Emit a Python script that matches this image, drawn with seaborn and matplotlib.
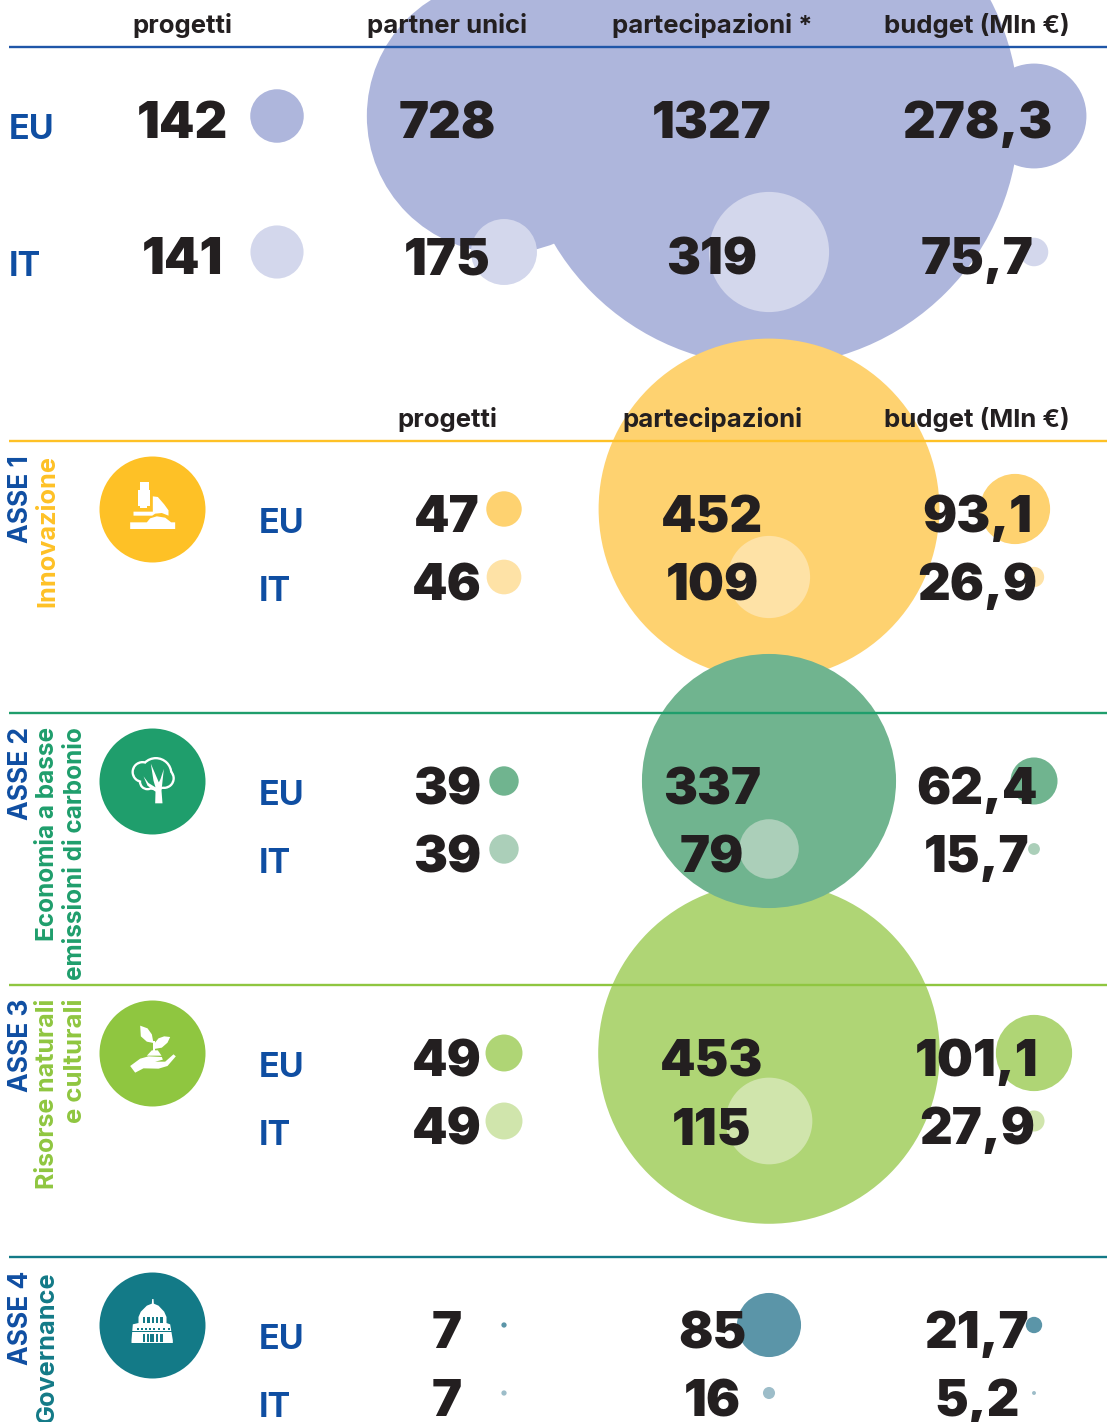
import matplotlib
matplotlib.use("Agg")
import matplotlib.pyplot as plt
from matplotlib.patches import Polygon, Circle, Rectangle
import pandas as pd
import seaborn as sns

W, H, DPI = 1107, 1422, 100
FONT = ["Inter", "DejaVu Sans"]
INK = "#231f20"
BLUE = "#0f4ea2"

# ---- data ----
top_headers = ["progetti", "partner unici", "partecipazioni *", "budget (Mln €)"]
section_headers = ["progetti", "partecipazioni", "budget (Mln €)"]
countries = ["EU", "IT"]
top_eu = [142, 728, 1327, 278.3]
top_it = [141, 175, 319, 75.7]
asse1_eu = [47, 452, 93.1]
asse1_it = [46, 109, 26.9]
asse2_eu = [39, 337, 62.4]
asse2_it = [39, 79, 15.7]
asse3_eu = [49, 453, 101.1]
asse3_it = [49, 115, 27.9]
asse4_eu = [7, 85, 21.7]
asse4_it = [7, 16, 5.2]

# ---- layout / style ----
TOP_CIRC_X = [277, 504, 769, 1034]
TOP_TEXT_X = [182, 447, 712, 977]
SEC_CIRC_X = TOP_CIRC_X[1:]
SEC_TEXT_X = TOP_TEXT_X[1:]
K_TOP, K_SEC = 0.1884, 0.377
NUM_SIZE = 36.5
sns.set_theme(style="white")
plt.rcParams["font.family"] = FONT

fig = plt.figure(figsize=(W / DPI, H / DPI), dpi=DPI)
ax = fig.add_axes([0, 0, 1, 1])
ax.set_xlim(0, W)
ax.set_ylim(H, 0)
ax.axis("off")


def size_for(values, k):
    return [(2 * k * v * 72 / DPI) ** 2 for v in values]


def bubbles(values, xs, y, k, color, z):
    df = pd.DataFrame({"x": xs, "y": [y] * len(xs), "v": values})
    sns.scatterplot(data=df, x="x", y="y", s=size_for(values, k), color=color,
                    linewidth=0, alpha=1, legend=False, ax=ax, zorder=z, clip_on=True)


def fmt(v):
    return f"{v:g}".replace(".", ",")


def numbers(values, xs, y):
    for v, x in zip(values, xs):
        ax.text(x, y, fmt(v), ha="center", va="baseline", fontsize=NUM_SIZE,
                fontweight=900, color=INK, zorder=20)


def country(x, y, label):
    ax.text(x, y, label, ha="left", va="center", fontsize=24.5, fontweight="bold", color=BLUE, zorder=20)


# top section
bubbles(top_eu, TOP_CIRC_X, 116, K_TOP, "#aeb6dc", 1)
bubbles(top_it, TOP_CIRC_X, 252, K_TOP, "#d3d7ec", 1.1)
numbers(top_eu, TOP_TEXT_X, 138.5)
numbers(top_it, TOP_TEXT_X, 274.5)
for h, x in zip(top_headers, TOP_TEXT_X):
    ax.text(x, 26, h, ha="center", va="center", fontsize=18.5, fontweight="bold", color=INK, zorder=20)
for h, x in zip(section_headers, SEC_TEXT_X):
    ax.text(x, 419, h, ha="center", va="center", fontsize=18.5, fontweight="bold", color=INK, zorder=20)
country(9, 130, countries[0])
country(9, 267, countries[1])

sections = [
    dict(name="ASSE 1", lines=["Innovazione"], sizes=[18.2], y=509, line=441, main="#fec126", eu="#fed270",
         it="#fee2a6", euv=asse1_eu, itv=asse1_it, z=2, budget_x=1015),
    dict(name="ASSE 2", lines=["Economia a basse", "emissioni di carbonio"], sizes=[17.5, 17.5], y=781, line=713,
         main="#1f9e6c", eu="#70b48f", it="#abcfb9", euv=asse2_eu, itv=asse2_it, z=4, budget_x=1034),
    dict(name="ASSE 3", lines=["Risorse naturali", "e culturali"], sizes=[18, 18.5], y=1053, line=985,
         main="#8fc640", eu="#afd575", it="#d0e5ac", euv=asse3_eu, itv=asse3_it, z=3, budget_x=1034),
    dict(name="ASSE 4", lines=["Governance"], sizes=[18.2], y=1325, line=1257, main="#137a87",
         eu="#5b95a8", it="#9dbdc9", euv=asse4_eu, itv=asse4_it, z=5, budget_x=1034),
]

for s in sections:
    y = s["y"]
    bubbles(s["euv"], SEC_CIRC_X[:2] + [s["budget_x"]], y, K_SEC, s["eu"], s["z"])
    bubbles(s["itv"], SEC_CIRC_X, y + 68, K_SEC, s["it"], s["z"] + 0.1)
    numbers(s["euv"], SEC_TEXT_X, y + 23.5)
    numbers(s["itv"], SEC_TEXT_X, y + 91.5)
    country(259, y + 15, countries[0])
    country(259, y + 83, countries[1])
    ax.plot([9, W], [s["line"]] * 2, color=s["main"], lw=1.7, zorder=15, solid_capstyle="butt")
    bubbles([53], [151.5], y, 1.0, s["main"], 16)
    ax.text(21, y - 54, s["name"], rotation=90, ha="center", va="top", fontsize=19, fontweight="bold",
            color=BLUE, zorder=20)
    for i, (t, fs) in enumerate(zip(s["lines"], s["sizes"])):
        ax.text(47.5 + 27.5 * i, y - 54, t, rotation=90, ha="center", va="top", fontsize=fs, fontweight="bold",
                color=s["main"], zorder=20)

ax.plot([9, W], [47, 47], color="#1f56a8", lw=1.7, zorder=15, solid_capstyle="butt")


# ---- icons, traced in a 125 px crop scaled 3x around the circle centre ----
def to_px(pts, cy):
    return [(152.5 + (a - 187) / 3, cy + (b - 186) / 3) for a, b in pts]


def poly(pts, cy, color="white"):
    ax.add_patch(Polygon(to_px(pts, cy), closed=True, fc=color, ec="none", zorder=17))


def disc(a, b, r, cy, color="white", z=17):
    (x, yy), = to_px([(a, b)], cy)
    ax.add_patch(Circle((x, yy), r / 3, fc=color, ec="none", zorder=z))


# microscope
c = 509
poly([(148, 104), (175, 104), (175, 130), (180, 130), (180, 176), (170, 176), (170, 184), (150, 184), (150, 176),
      (142, 176), (142, 130), (148, 130)], c)
poly([(188, 148), (203, 150), (222, 172), (235, 190), (235, 206), (215, 198), (195, 200), (186, 206), (130, 206),
      (130, 194), (188, 194)], c)
poly([(120, 226), (170, 226), (180, 214), (200, 208), (225, 212), (243, 226), (255, 226), (255, 246), (120, 246)], c)

# tree
c = 781
G = "#1f9e6c"
for a, b, r in [(197, 164, 50), (157, 159, 33), (172, 188, 26), (222, 178, 32)]:
    disc(a, b, r, c)
for a, b, r in [(197, 164, 43), (157, 159, 26), (172, 188, 19), (222, 178, 25)]:
    disc(a, b, r, c, G, 17.1)
ax.add_patch(Polygon(to_px([(195, 253), (217, 253), (214, 215), (221, 150), (211, 180), (206, 190), (182, 134),
                            (190, 185), (196, 205), (175, 192), (160, 172), (172, 200), (196, 218)], c),
                     closed=True, fc="white", ec="none", zorder=17.2))

# plant and hand
c = 1053
poly([(150, 104), (172, 112), (185, 130), (190, 156), (170, 152), (152, 136)], c)
poly([(240, 138), (222, 136), (205, 142), (192, 158), (192, 174), (215, 170), (232, 155)], c)
poly([(188, 150), (194, 150), (194, 180), (188, 180)], c)
poly([(170, 194), (185, 178), (203, 178), (214, 194)], c)
poly([(120, 225), (150, 203), (175, 196), (215, 198), (218, 206), (195, 212), (225, 212), (250, 190), (257, 196),
      (232, 225), (205, 233), (160, 232), (135, 245)], c)

# dome
c = 1325
T = "#137a87"
poly([(186, 108), (190, 108), (191, 122), (205, 128), (222, 146), (229, 162), (229, 180), (240, 184), (248, 232),
      (248, 240), (124, 240), (124, 232), (128, 184), (145, 180), (145, 162), (152, 146), (170, 128), (185, 122)], c)
for a in [158, 171, 184, 197, 210]:
    ax.add_patch(Rectangle(to_px([(a, 163)], c)[0], 7 / 3, 16 / 3, fc=T, ec="none", zorder=17.2))
for a in [140, 152, 164, 176, 188, 203, 218, 232]:
    ax.add_patch(Rectangle(to_px([(a, 194)], c)[0], 6 / 3, 6 / 3, fc=T, ec="none", zorder=17.2))
for a, w in [(157, 7), (170, 7), (180, 12), (197, 7), (210, 7)]:
    ax.add_patch(Rectangle(to_px([(a, 214)], c)[0], w / 3, 24 / 3, fc=T, ec="none", zorder=17.2))
ax.add_patch(Rectangle(to_px([(126, 204)], c)[0], 120 / 3, 2 / 3, fc=T, ec="none", zorder=17.2))

fig.savefig("out.png", dpi=DPI, facecolor="white")
